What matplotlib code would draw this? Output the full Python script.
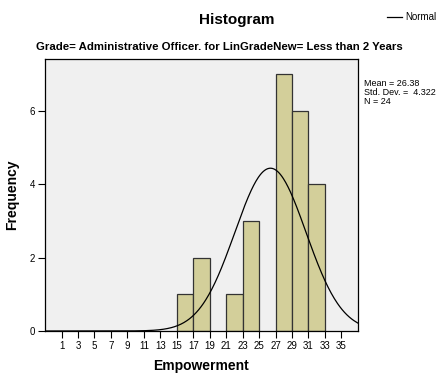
import numpy as np
import matplotlib.pyplot as plt
from matplotlib.lines import Line2D

# histogram bins (left edges) and counts
bin_left = [15, 17, 21, 23, 27, 29, 31]
counts = [1, 2, 1, 3, 7, 6, 4]
bin_width = 2
mean = 26.38
sd = 4.322
n = 24
xticks = list(range(1, 36, 2))
yticks = [0, 2, 4, 6]

plt.rcParams['font.family'] = ['Liberation Sans', 'DejaVu Sans']

fig = plt.figure(figsize=(4.38, 3.74), dpi=100)
ax = fig.add_axes([0.103, 0.115, 0.714, 0.727])
ax.set_facecolor('#f0f0f0')

ax.bar(bin_left, counts, width=bin_width, align='edge',
       color='#d3cf9a', edgecolor='#333333', linewidth=0.9, zorder=2)

x = np.linspace(-1, 37, 400)
y = n * bin_width * np.exp(-0.5 * ((x - mean) / sd) ** 2) / (sd * np.sqrt(2 * np.pi))
ax.plot(x, y, color='black', linewidth=0.9, zorder=3)

ax.set_xlim(-1, 37)
ax.set_ylim(0, 7.4)
ax.set_xticks(xticks)
ax.set_yticks(yticks)
ax.tick_params(axis='both', direction='out', length=5, width=0.8, labelsize=7, pad=2)
for s in ax.spines.values():
    s.set_linewidth(0.9)

ax.set_xlabel('Empowerment', fontsize=10, fontweight='bold', labelpad=6)
ax.set_ylabel('Frequency', fontsize=10, fontweight='bold', labelpad=8)

fig.text(0.54, 0.947, 'Histogram', ha='center', va='center', fontsize=11, fontweight='bold')
fig.text(0.5, 0.874, 'Grade= Administrative Officer. for LinGradeNew= Less than 2 Years',
         ha='center', va='center', fontsize=8.2, fontweight='bold')

# legend entry at the top right
fig.add_artist(Line2D([0.884, 0.918], [0.955, 0.955], color='black', linewidth=0.9))
fig.text(0.925, 0.955, 'Normal', ha='left', va='center', fontsize=7)

fig.text(0.83, 0.79, 'Mean = %.2f\nStd. Dev. =  %.3f\nN = %d' % (mean, sd, n),
         ha='left', va='top', fontsize=6.5, linespacing=1.0)

fig.savefig('out.png', dpi=100)
